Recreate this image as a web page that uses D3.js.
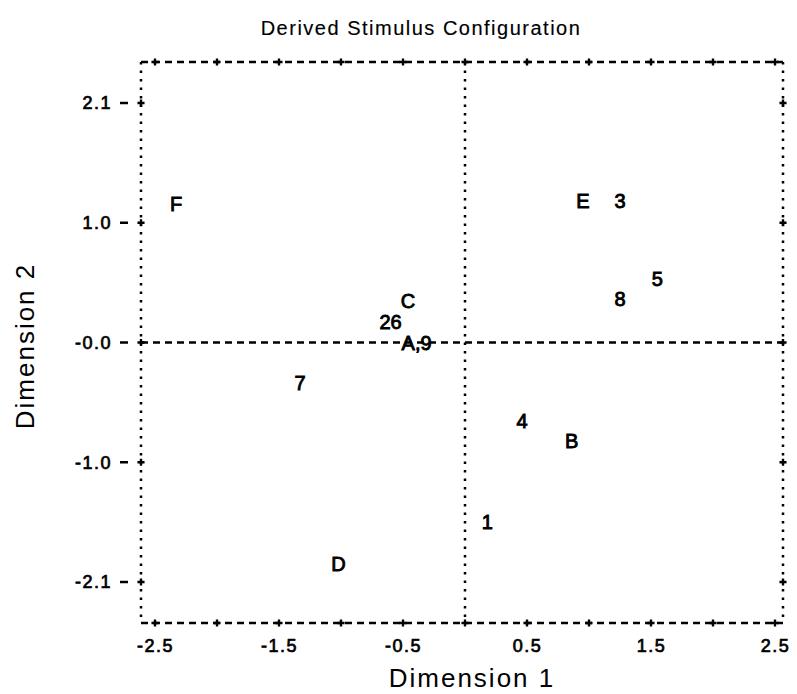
<!DOCTYPE html>
<html>
<head>
<meta charset="utf-8">
<script src="https://cdn.jsdelivr.net/npm/d3@7"></script>
<style>
  body { margin: 0; background: #fff; }
  svg text { font-family: "Liberation Sans", Arial, sans-serif; fill: #000; }
</style>
</head>
<body>
<div class="canvas"></div>
<script>
// data
const labels = ['F', 'E', '3', '5', '8', 'C', '26', 'A,9', '7', '4', 'B', '1', 'D'];
const dim1 = [-2.33, 0.95, 1.25, 1.55, 1.25, -0.46, -0.60, -0.39, -1.33, 0.46, 0.86, 0.18, -1.02];
const dim2 = [1.22, 1.24, 1.24, 0.56, 0.38, 0.37, 0.18, 0.0, -0.35, -0.69, -0.86, -1.57, -1.94];

const xTicks = [-2.5, -2, -1.5, -1, -0.5, 0, 0.5, 1, 1.5, 2, 2.5];
const xTickLabels = ['-2.5', '-1.5', '-0.5', '0.5', '1.5', '2.5'];
const yTicks = [2.1, 1.05, 0, -1.05, -2.1];
const yTickLabels = ['2.1', '1.0', '-0.0', '-1.0', '-2.1'];

const W = 797, H = 694;

const svg = d3.select('.canvas')
    .append('svg')
    .attr('width', W)
    .attr('height', H);

// scales (frame a bit bigger than the tick range, like the printer plot)
const x = d3.scaleLinear().domain([-2.5, 2.5]).range([155, 775]);
const y = d3.scaleLinear().domain([-2.1, 2.1]).range([582, 103]);
const fx = [x.invert(141), x.invert(783)];
const fy = [y.invert(623), y.invert(62)];

const dashed = { dash: '7,5', w: 2.5 };
const dotted = { dash: '2.5,6', w: 2.5 };

const line = (x1, y1, x2, y2, st) => svg.append('line')
    .attr('x1', x1).attr('y1', y1).attr('x2', x2).attr('y2', y2)
    .attr('stroke', '#000')
    .attr('stroke-width', st.w)
    .attr('stroke-dasharray', st.dash);

// frame
line(x(fx[0]), y(fy[1]), x(fx[1]), y(fy[1]), dashed);
line(x(fx[0]), y(fy[0]), x(fx[1]), y(fy[0]), dashed);
line(x(fx[0]), y(fy[1]), x(fx[0]), y(fy[0]), dotted);
line(x(fx[1]), y(fy[1]), x(fx[1]), y(fy[0]), dotted);

// reference lines at zero
line(x(fx[0]), y(0), x(fx[1]), y(0), dashed);
line(x(0), y(fy[1]), x(0), y(fy[0]), dotted);

// plus tick marks
const plus = d3.symbol().type(d3.symbolCross).size(28);
const marks = svg.append('g');
xTicks.forEach(t => {
    [fy[0], fy[1]].forEach(v => {
        marks.append('path').attr('d', plus)
            .attr('transform', `translate(${x(t)},${y(v)})`);
    });
});
yTicks.forEach(t => {
    [fx[0], fx[1]].forEach(v => {
        marks.append('path').attr('d', plus)
            .attr('transform', `translate(${x(v)},${y(t)})`);
    });
    // little dash in front of left ticks
    svg.append('line')
        .attr('x1', x(fx[0]) - 21).attr('x2', x(fx[0]) - 13)
        .attr('y1', y(t)).attr('y2', y(t))
        .attr('stroke', '#000').attr('stroke-width', 2.5);
});

// axes for the tick labels
const xAxis = svg.append('g')
    .attr('transform', `translate(0, ${y(fy[0]) + 13})`)
    .call(d3.axisBottom(x)
        .tickValues([-2.5, -1.5, -0.5, 0.5, 1.5, 2.5])
        .tickFormat((d, i) => xTickLabels[i])
        .tickSize(0));

const yAxis = svg.append('g')
    .attr('transform', `translate(${x(fx[0]) - 26}, 0)`)
    .call(d3.axisLeft(y)
        .tickValues(yTicks)
        .tickFormat((d, i) => yTickLabels[i])
        .tickSize(0));

[xAxis, yAxis].forEach(g => {
    g.select('.domain').remove();
    g.selectAll('text')
        .attr('font-size', 18)
        .attr('letter-spacing', 1.5)
        .attr('stroke', '#000')
        .attr('stroke-width', 0.7)
        .style('font-family', '"Liberation Sans", Arial, sans-serif');
});

// point labels
svg.append('g').selectAll('text')
    .data(labels)
    .enter()
    .append('text')
    .attr('x', (d, i) => x(dim1[i]))
    .attr('y', (d, i) => y(dim2[i]))
    .attr('dy', '0.36em')
    .attr('text-anchor', 'middle')
    .attr('font-size', 20)
    .attr('stroke', '#000')
    .attr('stroke-width', 0.9)
    .text(d => d);

// titles
svg.append('text')
    .attr('x', 421).attr('y', 35)
    .attr('text-anchor', 'middle')
    .attr('font-size', 20)
    .attr('letter-spacing', 1.5)
    .attr('stroke', '#000')
    .attr('stroke-width', 0.15)
    .text('Derived Stimulus Configuration');

svg.append('text')
    .attr('x', 472).attr('y', 687)
    .attr('text-anchor', 'middle')
    .attr('font-size', 26)
    .attr('letter-spacing', 2)
    .text('Dimension 1');

svg.append('text')
    .attr('transform', 'translate(34, 346) rotate(-90)')
    .attr('text-anchor', 'middle')
    .attr('font-size', 26)
    .attr('letter-spacing', 2)
    .text('Dimension 2');
</script>
</body>
</html>
